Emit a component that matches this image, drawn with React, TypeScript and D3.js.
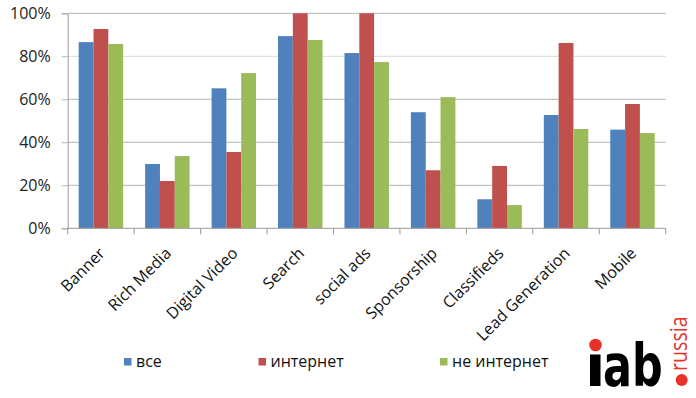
import React, { useEffect, useRef } from 'react'
import * as d3 from 'd3'

const categories = ['Banner', 'Rich Media', 'Digital Video', 'Search', 'social ads', 'Sponsorship', 'Classifieds', 'Lead Generation', 'Mobile']
const seriesNames = ['все', 'интернет', 'не интернет']
const allValues = [86.6, 29.9, 65.1, 89.4, 81.5, 54.0, 13.5, 52.7, 45.9]
const internetValues = [92.7, 22.0, 35.5, 100, 100, 27.0, 29.0, 86.2, 57.8]
const nonInternetValues = [85.7, 33.6, 72.2, 87.6, 77.3, 61.0, 10.8, 46.2, 44.3]
const yTicks = [0, 20, 40, 60, 80, 100]
const colors = ['#4F81BD', '#C0504D', '#9BBB59']

export default function App() {
    const svgRef = useRef<SVGSVGElement>(null)

    const width = 696
    const height = 398
    const left = 67.7
    const right = 665.7
    const top = 13.3
    const bottom = 228.3

    useEffect(() => {
        const svg = d3.select(svgRef.current)
        svg.selectAll('*').remove()

        const font = "'Open Sans', sans-serif"
        const values = [allValues, internetValues, nonInternetValues]

        const x = d3.scaleBand<string>()
            .domain(categories)
            .range([left, right])
            .padding(0)

        const inner = d3.scaleBand<number>()
            .domain([0, 1, 2])
            .range([11, x.bandwidth() - 11])
            .padding(0)

        const y = d3.scaleLinear()
            .domain([0, 100])
            .range([bottom, top])

        // gridlines
        svg.append('g')
            .selectAll('line')
            .data(yTicks.filter(d => d > 0))
            .enter().append('line')
            .attr('x1', left)
            .attr('x2', right)
            .attr('y1', d => y(d))
            .attr('y2', d => y(d))
            .style('stroke', d => d === 80 ? '#d9d9d9' : '#b3b3b3')
            .style('stroke-width', 1)

        // bars
        const groups = svg.append('g')
            .selectAll('g')
            .data(categories)
            .enter().append('g')
            .attr('transform', d => `translate(${x(d)},0)`)

        groups.selectAll('rect')
            .data((d, i) => values.map((s, k) => ({ k, v: s[i] })))
            .enter().append('rect')
            .attr('x', d => inner(d.k) as number)
            .attr('y', d => y(d.v))
            .attr('width', inner.bandwidth())
            .attr('height', d => bottom - y(d.v))
            .style('fill', d => colors[d.k])

        // axes
        const yAxis = svg.append('g')
            .attr('transform', `translate(${left},0)`)
            .call(d3.axisLeft(y).tickValues(yTicks).tickSize(6).tickPadding(11).tickFormat(d => `${d}%`))
        yAxis.select('.domain').style('stroke', '#999')
        yAxis.selectAll('.tick line').style('stroke', '#b3b3b3')
        yAxis.selectAll('text')
            .style('font-family', font)
            .style('font-size', '16px')
            .style('fill', '#222')

        svg.append('line')
            .attr('x1', left)
            .attr('x2', right)
            .attr('y1', bottom)
            .attr('y2', bottom)
            .style('stroke', '#999')

        const boundaries = categories.map(c => x(c) as number).concat([right])
        svg.append('g')
            .selectAll('line')
            .data(boundaries)
            .enter().append('line')
            .attr('x1', d => d)
            .attr('x2', d => d)
            .attr('y1', bottom)
            .attr('y2', bottom + 6)
            .style('stroke', '#999')

        svg.append('g')
            .selectAll('text')
            .data(categories)
            .enter().append('text')
            .attr('transform', d => `translate(${(x(d) as number) + x.bandwidth() / 2 + 5},${bottom + 26}) rotate(-45)`)
            .attr('text-anchor', 'end')
            .style('font-family', font)
            .style('font-size', '16px')
            .style('fill', '#111')
            .text(d => d)

        // legend
        const legendX = [124, 258.5, 440]
        const legend = svg.append('g')
            .selectAll('g')
            .data(seriesNames)
            .enter().append('g')
            .attr('transform', (d, i) => `translate(${legendX[i]},358)`)
        legend.append('rect')
            .attr('width', 7.5)
            .attr('height', 7.5)
            .style('fill', (d, i) => colors[i])
        legend.append('text')
            .attr('x', 12)
            .attr('y', 9)
            .style('font-family', font)
            .style('font-size', '16px')
            .style('fill', '#111')
            .text(d => d)

        // iab russia logo
        const logo = svg.append('g')
        logo.append('rect')
            .attr('x', 590).attr('y', 354.5)
            .attr('width', 10.5).attr('height', 31.5)
            .style('fill', '#000')
        logo.append('circle')
            .attr('cx', 595.5).attr('cy', 345).attr('r', 6.3)
            .style('fill', '#e8312a')
        logo.append('text')
            .attr('transform', 'translate(603,386) scale(0.74,1)')
            .style('font-family', "'DejaVu Sans', sans-serif")
            .style('font-weight', 'bold')
            .style('font-size', '58px')
            .style('fill', '#000')
            .text('ab')
        logo.append('circle')
            .attr('cx', 681.7).attr('cy', 380).attr('r', 6)
            .style('fill', '#e8312a')
        logo.append('text')
            .attr('transform', 'translate(687,371) rotate(-90) scale(0.82,1)')
            .style('font-family', font)
            .style('font-size', '24px')
            .style('fill', '#e8312a')
            .text('russia')
    }, [])

    return (
        <svg ref={svgRef} width={width} height={height}
            style={{ position: 'absolute', left: 0, top: 0, background: '#fff' }} />
    )
}
